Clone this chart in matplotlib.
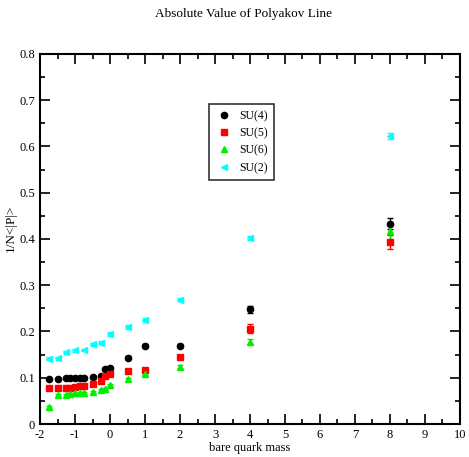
import matplotlib
matplotlib.use("Agg")
import matplotlib.pyplot as plt
from matplotlib.ticker import MultipleLocator
from matplotlib.lines import Line2D

plt.rcParams["font.family"] = ["Liberation Serif", "DejaVu Serif"]

# ===== Donnees =====
x_su4 = [-1.75, -1.5, -1.25, -1.15, -1.0, -0.85, -0.75, -0.5, -0.25, -0.15, 0.0, 0.5, 1.0, 2.0, 4.0, 8.0]
y_su4 = [0.098, 0.098, 0.099, 0.099, 0.099, 0.100, 0.100, 0.102, 0.103, 0.119, 0.122, 0.143, 0.169, 0.169, 0.248, 0.433]
e_su4 = [0.002, 0.002, 0.002, 0.002, 0.002, 0.002, 0.002, 0.002, 0.002, 0.002, 0.002, 0.003, 0.003, 0.003, 0.008, 0.012]

x_su5 = [-1.75, -1.5, -1.25, -1.15, -1.0, -0.85, -0.75, -0.5, -0.25, -0.15, 0.0, 0.5, 1.0, 2.0, 4.0, 8.0]
y_su5 = [0.077, 0.077, 0.077, 0.078, 0.079, 0.082, 0.083, 0.086, 0.092, 0.103, 0.109, 0.115, 0.116, 0.144, 0.206, 0.394]
e_su5 = [0.002, 0.002, 0.002, 0.002, 0.002, 0.002, 0.002, 0.002, 0.002, 0.002, 0.002, 0.003, 0.003, 0.003, 0.01, 0.015]

x_su6 = [-1.75, -1.5, -1.25, -1.15, -1.0, -0.85, -0.75, -0.5, -0.25, -0.15, 0.0, 0.5, 1.0, 2.0, 4.0, 8.0]
y_su6 = [0.037, 0.062, 0.063, 0.064, 0.066, 0.067, 0.067, 0.070, 0.074, 0.076, 0.085, 0.097, 0.108, 0.124, 0.178, 0.417]
e_su6 = [0.002, 0.002, 0.002, 0.002, 0.002, 0.002, 0.002, 0.002, 0.002, 0.002, 0.002, 0.003, 0.003, 0.003, 0.006, 0.02]

x_su2 = [-1.75, -1.5, -1.25, -1.0, -0.75, -0.5, -0.25, 0.0, 0.5, 1.0, 2.0, 4.0, 8.0]
y_su2 = [0.141, 0.142, 0.155, 0.159, 0.160, 0.172, 0.176, 0.195, 0.209, 0.225, 0.269, 0.402, 0.623]
e_su2 = [0.003, 0.003, 0.003, 0.003, 0.003, 0.003, 0.003, 0.004, 0.004, 0.004, 0.004, 0.005, 0.006]

series = [
    ("SU(4)", x_su4, y_su4, e_su4, "black", "o"),
    ("SU(5)", x_su5, y_su5, e_su5, "red", "s"),
    ("SU(6)", x_su6, y_su6, e_su6, "#00ee00", "^"),
    ("SU(2)", x_su2, y_su2, e_su2, "cyan", "<"),
]

# ===== Graphique =====
fig = plt.figure(figsize=(4.69, 4.57), dpi=100)
ax = fig.add_axes([0.0853, 0.0722, 0.8955, 0.81])

handles = []
for label, xs, ys, es, col, mk in series:
    ax.errorbar(xs, ys, yerr=es, fmt=mk, color=col, ecolor=col, markersize=4.5,
                elinewidth=1, capsize=2.5, capthick=1)
    handles.append(Line2D([], [], linestyle="none", marker=mk, color=col,
                          markersize=4.5, label=label))

ax.set_xlim(-2, 10)
ax.set_ylim(0, 0.8)
ax.xaxis.set_major_locator(MultipleLocator(1))
ax.xaxis.set_minor_locator(MultipleLocator(0.5))
ax.yaxis.set_major_locator(MultipleLocator(0.1))
ax.yaxis.set_minor_locator(MultipleLocator(0.05))
ax.tick_params(which="both", direction="in", top=True, right=True, labelsize=9, width=1.2)
ax.tick_params(which="major", length=7.5)
ax.tick_params(which="minor", length=3.75)
ax.xaxis.set_major_formatter(plt.FuncFormatter(lambda v, p: f"{v:g}"))
ax.yaxis.set_major_formatter(plt.FuncFormatter(lambda v, p: "0" if v == 0 else f"{v:.1f}"))
for s in ax.spines.values():
    s.set_linewidth(1.5)

ax.set_xlabel("bare quark mass", fontsize=9, labelpad=1)
ax.set_ylabel("1/N<|P|>", fontsize=9.5, labelpad=3)
ax.yaxis.set_label_coords(-0.055, 0.53)
fig.suptitle("Absolute Value of Polyakov Line", fontsize=9.5, x=0.52, y=0.982)

leg = ax.legend(handles=handles, loc="center", bbox_to_anchor=(0.48, 0.762), fontsize=8.5,
                frameon=True, fancybox=False, edgecolor="black", handlelength=1.5,
                handletextpad=0.6, borderpad=0.5, labelspacing=0.45)
leg.get_frame().set_linewidth(1.2)

fig.savefig("out.png", dpi=100)
